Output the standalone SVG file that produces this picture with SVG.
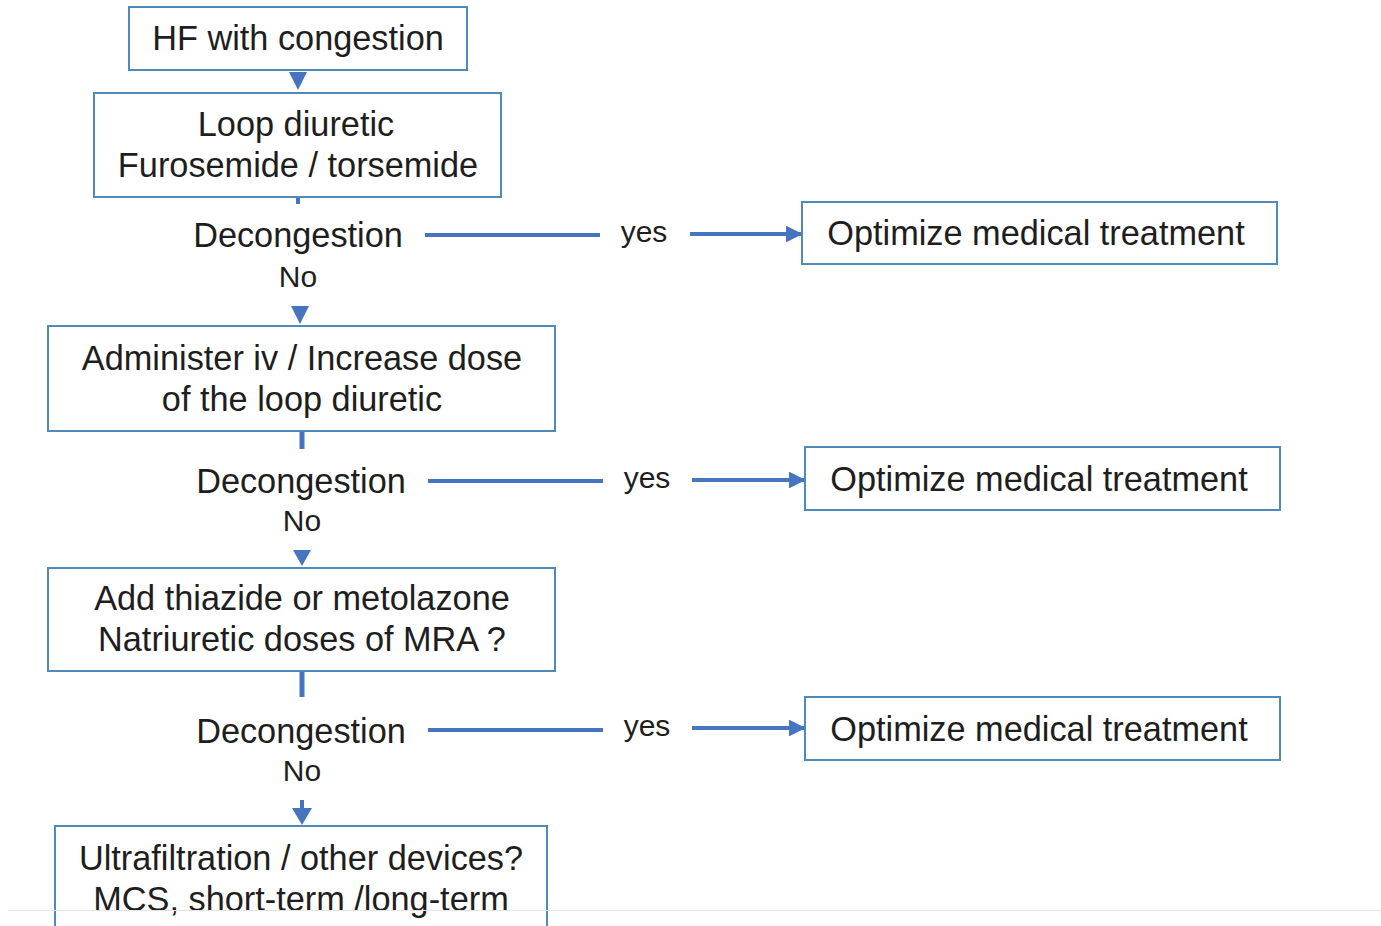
<svg xmlns="http://www.w3.org/2000/svg" width="1381" height="926" viewBox="0 0 1381 926">
  <style>
    .box { fill: #ffffff; stroke: #4f8ab8; stroke-width: 2; }
    .t { font-family: "Liberation Sans", Arial, sans-serif; font-size: 34.3px; fill: #1e1e1e; text-anchor: middle; }
    .s { font-size: 30px; }
    .ln { stroke: #4674bf; stroke-width: 4; fill: none; }
    .tri { fill: #4674bf; }
  </style>
  <defs>
    <marker id="ah" viewBox="0 0 10 10" refX="9" refY="5" markerWidth="4.2" markerHeight="4.2" orient="auto" markerUnits="strokeWidth">
      <path d="M0,0 L10,5 L0,10 z" fill="#4674bf"/>
    </marker>
  </defs>
  <rect width="1381" height="926" fill="#ffffff"/>

  <!-- connectors -->
  <g id="connectors">
    <!-- main vertical flow -->
    <polygon class="tri" points="289,72 307,72 298,90"/>
    <line class="ln" x1="298" y1="197" x2="298" y2="204"/>
    <polygon class="tri" points="291,306 309,306 300,324"/>
    <line class="ln" x1="302" y1="432" x2="302" y2="449" style="stroke-width:5"/>
    <polygon class="tri" points="293,550 311,550 302,566"/>
    <line class="ln" x1="302" y1="672" x2="302" y2="697" style="stroke-width:5"/>
    <line class="ln" x1="302" y1="800" x2="302" y2="812"/>
    <polygon class="tri" points="292,808 312,808 302,825"/>

    <!-- yes branches -->
    <line class="ln" x1="425" y1="235" x2="600" y2="235"/>
    <line class="ln" x1="690" y1="234" x2="801" y2="234" marker-end="url(#ah)"/>
    <line class="ln" x1="428" y1="481" x2="603" y2="481"/>
    <line class="ln" x1="692" y1="480" x2="804" y2="480" marker-end="url(#ah)"/>
    <line class="ln" x1="428" y1="730" x2="603" y2="730"/>
    <line class="ln" x1="692" y1="728" x2="804" y2="728" marker-end="url(#ah)"/>
  </g>

  <g id="n-start">
    <rect class="box" x="129" y="7" width="338" height="63"/>
    <text class="t" x="298" y="50">HF with congestion</text>
  </g>

  <g id="n-loop">
    <rect class="box" x="94" y="93" width="407" height="104"/>
    <text class="t" x="296" y="136">Loop diuretic</text>
    <text class="t" x="298" y="177">Furosemide / torsemide</text>
  </g>

  <g id="d1">
    <text class="t" x="298" y="247">Decongestion</text>
    <text class="t s" x="298" y="287">No</text>
    <text class="t s" x="644" y="242">yes</text>
  </g>

  <g id="o1">
    <rect class="box" x="802" y="202" width="475" height="62"/>
    <text class="t" x="1036" y="245">Optimize medical treatment</text>
  </g>

  <g id="n-iv">
    <rect class="box" x="48" y="326" width="507" height="105"/>
    <text class="t" x="302" y="370">Administer iv / Increase dose</text>
    <text class="t" x="302" y="411">of the loop diuretic</text>
  </g>

  <g id="d2">
    <text class="t" x="301" y="493">Decongestion</text>
    <text class="t s" x="302" y="531">No</text>
    <text class="t s" x="647" y="488">yes</text>
  </g>

  <g id="o2">
    <rect class="box" x="805" y="447" width="475" height="63"/>
    <text class="t" x="1039" y="491">Optimize medical treatment</text>
  </g>

  <g id="n-thiazide">
    <rect class="box" x="48" y="568" width="507" height="103"/>
    <text class="t" x="302" y="610">Add thiazide or metolazone</text>
    <text class="t" x="302" y="651">Natriuretic doses of MRA ?</text>
  </g>

  <g id="d3">
    <text class="t" x="301" y="743">Decongestion</text>
    <text class="t s" x="302" y="781">No</text>
    <text class="t s" x="647" y="736">yes</text>
  </g>

  <g id="o3">
    <rect class="box" x="805" y="697" width="475" height="63"/>
    <text class="t" x="1039" y="741">Optimize medical treatment</text>
  </g>

  <g id="n-uf">
    <rect class="box" x="55" y="826" width="492" height="120"/>
    <text class="t" x="301" y="870">Ultrafiltration / other devices?</text>
    <text class="t" x="301" y="911">MCS, short-term /long-term</text>
  </g>

  <!-- page edge -->
  <line x1="8" y1="910.5" x2="1381" y2="910.5" stroke="#e4e4e4" stroke-width="1"/>
</svg>
